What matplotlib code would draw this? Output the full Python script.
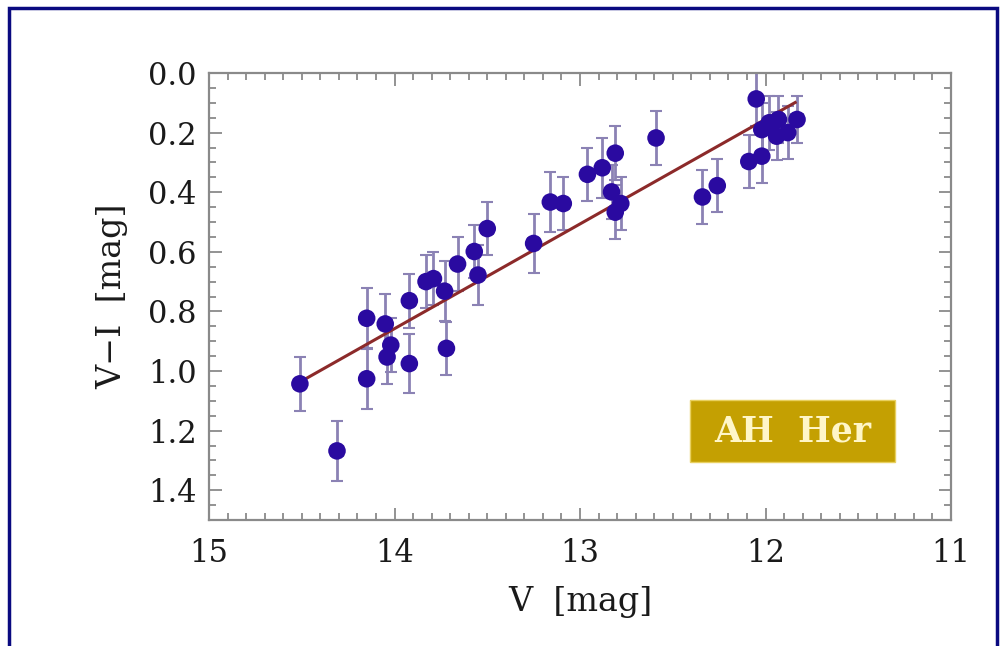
import matplotlib
matplotlib.use("Agg")
import matplotlib.pyplot as plt
from matplotlib.patches import Rectangle
from matplotlib.ticker import MultipleLocator, FormatStrFormatter

# V magnitude, V-I colour and V-I error
v_mag = [14.51, 14.31, 14.15, 14.15, 14.05, 14.02, 14.04, 13.92, 13.92,
         13.83, 13.79, 13.73, 13.72, 13.66, 13.57, 13.55, 13.50, 13.25,
         13.16, 13.09, 12.96, 12.88, 12.81, 12.83, 12.81, 12.78, 12.59,
         12.34, 12.26, 12.09, 12.02, 12.05, 11.98, 11.93, 11.83, 11.88,
         12.02, 11.94]
v_i = [1.043, 1.268, 0.823, 1.026, 0.842, 0.913, 0.953, 0.764, 0.975,
       0.700, 0.690, 0.732, 0.924, 0.641, 0.599, 0.678, 0.522, 0.572,
       0.433, 0.438, 0.340, 0.318, 0.269, 0.399, 0.467, 0.438, 0.218,
       0.416, 0.378, 0.297, 0.279, 0.087, 0.167, 0.156, 0.156, 0.200,
       0.190, 0.212]
v_i_err = [0.09, 0.10, 0.10, 0.10, 0.10, 0.09, 0.09, 0.09, 0.10,
           0.09, 0.09, 0.10, 0.09, 0.09, 0.09, 0.10, 0.09, 0.10,
           0.10, 0.09, 0.09, 0.10, 0.09, 0.09, 0.09, 0.09, 0.09,
           0.09, 0.09, 0.09, 0.09, 0.09, 0.09, 0.08, 0.08, 0.09,
           0.09, 0.08]
v_err = 0.03

# linear fit drawn in the figure (end points)
fit_v = [14.51, 11.84]
fit_vi = [1.037, 0.099]

plt.rcParams['font.family'] = ['DejaVu Serif']

fig = plt.figure(figsize=(10, 6.46), dpi=100)
fig.patch.set_facecolor('white')
ax = fig.add_axes([0.209, 0.195, 0.742, 0.692])

ax.errorbar(v_mag, v_i, yerr=v_i_err, xerr=v_err, fmt='none',
            ecolor='#8b82b4', elinewidth=2, capsize=4, capthick=1.5, zorder=2)
ax.plot(fit_v, fit_vi, color='#8c2a2a', lw=2.2, zorder=3)
ax.scatter(v_mag, v_i, s=160, color='#2a0aa0', edgecolors='none', zorder=4)

ax.set_xlim(15, 11)
ax.set_ylim(1.5, 0.0)
ax.xaxis.set_major_locator(MultipleLocator(1))
ax.xaxis.set_minor_locator(MultipleLocator(0.1))
ax.yaxis.set_major_locator(MultipleLocator(0.2))
ax.yaxis.set_minor_locator(MultipleLocator(0.05))
ax.yaxis.set_major_formatter(FormatStrFormatter('%.1f'))

ax.tick_params(which='both', direction='in', top=True, right=True,
               color='#8a8a8a', width=1.3, labelsize=22, labelcolor='#1a1a1a')
ax.tick_params(which='major', length=9)
ax.tick_params(axis='x', which='major', pad=13)
ax.tick_params(axis='y', which='major', pad=9)
ax.tick_params(which='minor', length=5)
for s in ax.spines.values():
    s.set_color('#8a8a8a')
    s.set_linewidth(1.6)

ax.set_xlabel('V  [mag]', fontsize=24, color='#1a1a1a', labelpad=12)
ax.set_ylabel('V\u2212I  [mag]', fontsize=24, color='#1a1a1a', labelpad=14)

# star name label
ax.add_patch(Rectangle((0.648, 0.13), 0.277, 0.138, transform=ax.transAxes,
                       facecolor='#c4a002', edgecolor='#e8d060', lw=1, zorder=5))
ax.text(0.7865, 0.199, 'AH  Her', transform=ax.transAxes, ha='center',
        va='center', fontsize=25, fontweight='bold', color='#fff6c8', zorder=6)

# dark blue frame round the picture
fig.patches.append(Rectangle((0.009, -0.05), 0.988, 1.038, transform=fig.transFigure,
                             fill=False, edgecolor='#0a0a80', lw=2.5))

fig.savefig('out.png', dpi=100)
